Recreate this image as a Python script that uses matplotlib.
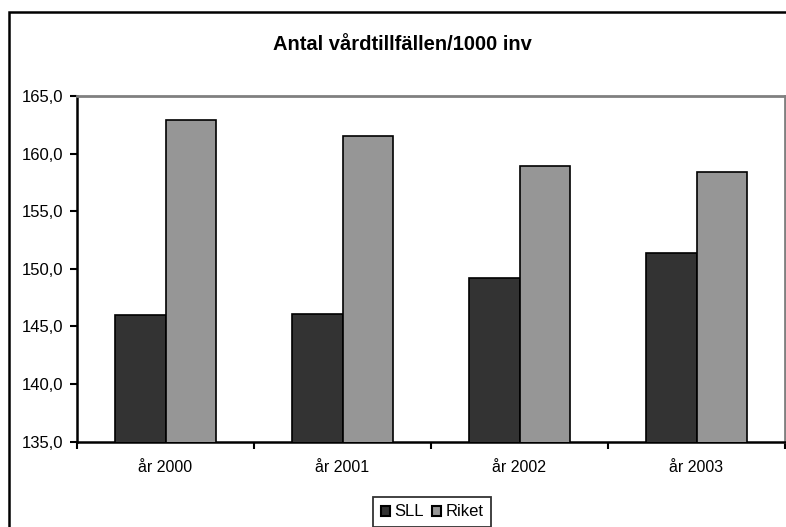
import matplotlib
matplotlib.use("Agg")
import matplotlib.pyplot as plt
from matplotlib.patches import Rectangle
from matplotlib.ticker import FuncFormatter, FixedLocator
import numpy as np

categories = ["år 2000", "år 2001", "år 2002", "år 2003"]
sll = [146.0, 146.1, 149.2, 151.4]
riket = [162.9, 161.5, 158.9, 158.4]
yticks = [135, 140, 145, 150, 155, 160, 165]
title = "Antal vårdtillfällen/1000 inv"

plt.rcParams['font.family'] = ['Liberation Sans', 'DejaVu Sans']

W, H = 786, 527
fig = plt.figure(figsize=(W / 100, H / 100), dpi=100)
fig.patch.set_facecolor('white')

# outer chart border (cropped at right/bottom)
fig.patches.append(Rectangle((9 / W, -0.05), 1.1, 1 - 12 / H + 0.05,
                             transform=fig.transFigure, fill=False,
                             edgecolor='black', linewidth=1.8))

left, right, top, bottom = 77 / W, 785 / W, 96 / H, 441.7 / H
ax = fig.add_axes([left, 1 - bottom, right - left, bottom - top])

x = np.arange(len(categories))
bw = 1 / 3.5
ax.bar(x - bw / 2, sll, bw, color='#333333', edgecolor='black',
       linewidth=1.2, label='SLL', zorder=3)
ax.bar(x + bw / 2, riket, bw, color='#969696', edgecolor='black',
       linewidth=1.2, label='Riket', zorder=3)

ax.set_ylim(135, 165)
ax.set_xlim(-0.5, len(categories) - 0.5)
ax.set_yticks(yticks)
ax.yaxis.set_major_formatter(FuncFormatter(lambda v, p: f"{v:.1f}".replace('.', ',')))
ax.tick_params(axis='y', direction='out', length=5, width=1.5, labelsize=12, pad=5)

ax.xaxis.set_major_locator(FixedLocator(np.arange(len(categories) + 1) - 0.5))
ax.set_xticklabels([])
ax.set_xticks(x, minor=True)
ax.set_xticklabels(categories, minor=True)
ax.tick_params(axis='x', which='major', direction='out', length=5, width=1.5)
ax.tick_params(axis='x', which='minor', length=0, labelsize=11.5, pad=13)

for s in ['left', 'bottom']:
    ax.spines[s].set_color('black')
    ax.spines[s].set_linewidth(1.8)
for s in ['top', 'right']:
    ax.spines[s].set_color('#808080')
    ax.spines[s].set_linewidth(2)

fig.text(402 / W, 1 - 44 / H, title, ha='center', va='center',
         fontsize=14.5, fontweight='bold')

leg = fig.legend(loc='upper left', bbox_to_anchor=(373 / W, 1 - 497 / H),
                 ncol=2, fontsize=12, frameon=True, fancybox=False,
                 handlelength=0.55, handleheight=0.55, handletextpad=0.3,
                 columnspacing=0.45, borderpad=0.45, borderaxespad=0)
leg.get_frame().set_edgecolor('black')
leg.get_frame().set_linewidth(1.3)
for h in leg.legend_handles:
    h.set_edgecolor('black')
    h.set_linewidth(1.5)

fig.savefig('out.png', dpi=100, facecolor='white')
